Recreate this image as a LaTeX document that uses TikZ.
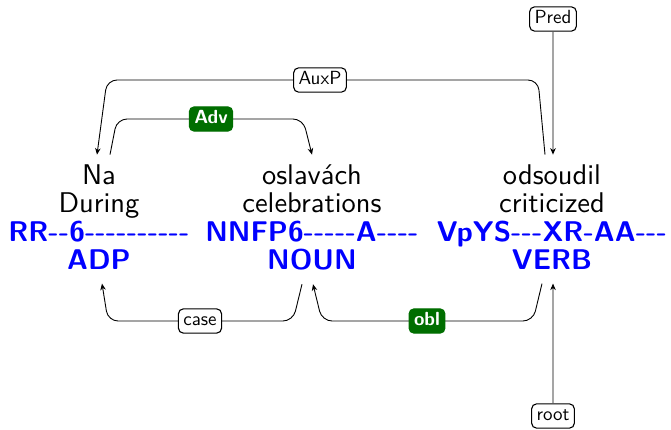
\documentclass[tikz,border=0pt]{standalone}
\usepackage{tikz}
\usetikzlibrary{arrows.meta}
\renewcommand{\familydefault}{\sfdefault}
\definecolor{relgreen}{RGB}{0,110,0}

\tikzset{
  word/.style={anchor=base, inner sep=0pt, scale=2.85},
  tag/.style={word, text=blue, font=\bfseries},
  rel/.style={draw, line width=1.1pt, rounded corners=5pt, fill=white, inner xsep=2.6pt, inner ysep=1.8pt,
    text height=7.1pt, text depth=2.1pt, scale=1.9},
  relg/.style={rel, draw=relgreen, fill=relgreen, text=white, font=\bfseries},
  deptip/.tip={Stealth[length=6.5pt,width=5.5pt,inset=2pt]},
  dep/.style={-deptip, line width=0.9pt, rounded corners=10pt}
}

\begin{document}
\begin{tikzpicture}[x=1pt,y=-1pt]
\useasboundingbox (0,0) rectangle (671,430);

% words
\node[word] (na) at (99,185) {Na};
\node[word] (during) at (99,213) {During};
\node[tag] (rr) at (99,241) {RR-{}-6-{}-{}-{}-{}-{}-{}-{}-{}-{}-};
\node[tag] (adp) at (99,269) {ADP};

\node[word] (oslavach) at (312,185) {oslavách};
\node[word] (celebrations) at (312,213) {celebrations};
\node[tag] (nnfp) at (312,241) {NNFP6-{}-{}-{}-{}-A-{}-{}-{}-};
\node[tag] (noun) at (312,269) {NOUN};

\node[word] (odsoudil) at (552,185) {odsoudil};
\node[word] (criticized) at (552,213) {criticized};
\node[tag] (vpys) at (552,241) {VpYS-{}-{}-XR-AA-{}-{}-};
\node[tag] (verb) at (552,269) {VERB};

% arcs above
\draw[dep] ([xshift=-7pt,yshift=10pt]odsoudil.north) -- (538,80) -- (107,80) -- ([xshift=-2pt,yshift=10pt]na.north);
\draw[dep] ([xshift=11pt,yshift=10pt]na.north) -- (117,119) -- (303,119) -- ([yshift=10pt]oslavach.north);

% arcs below
\draw[dep] ([xshift=-10pt,yshift=-14pt]noun.south) -- (293,321) -- (108,321) -- ([xshift=3pt,yshift=-14pt]adp.south);
\draw[dep] ([xshift=-10pt,yshift=-14pt]verb.south) -- (533,321) -- (322,321) -- ([xshift=1pt,yshift=-14pt]noun.south);

% labels
\node[rel] (auxp) at (320,80) {AuxP};
\node[relg] (adv) at (211,119) {Adv};
\node[rel] (casel) at (200,321) {case};
\node[relg] (obl) at (427,321) {obl};
\node[rel] (pred) at (553,19) {Pred};
\node[rel] (root) at (553,416) {root};

% root and pred
\draw[dep] (pred) -- ([xshift=1pt,yshift=10pt]odsoudil.north);
\draw[dep] (root) -- ([xshift=1pt,yshift=-14pt]verb.south);
\end{tikzpicture}
\end{document}
